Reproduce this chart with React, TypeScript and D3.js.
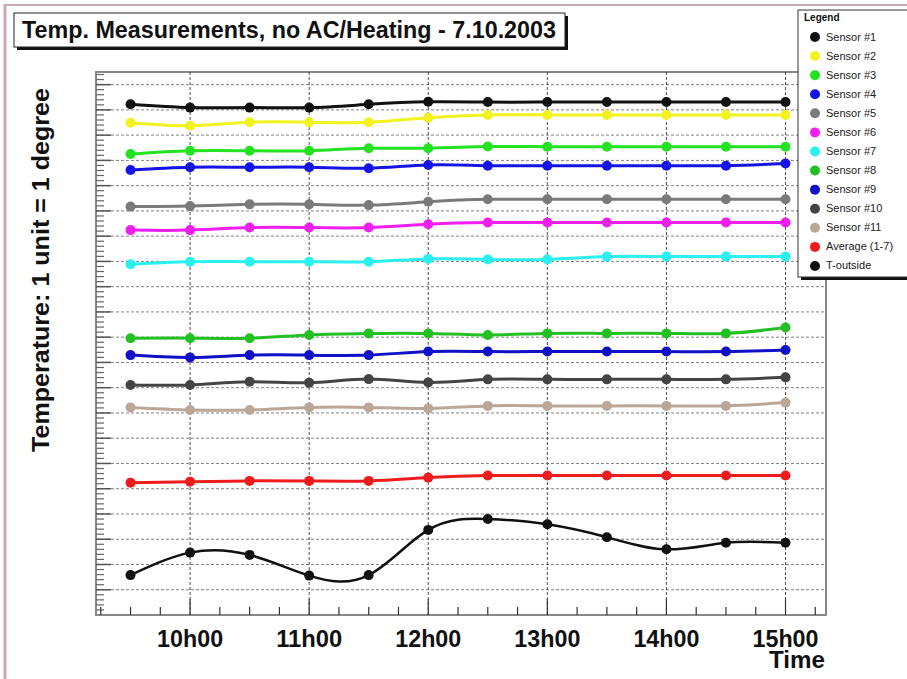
import React from "react";
import * as d3 from "d3";

const times = [9.5, 10, 10.5, 11, 11.5, 12, 12.5, 13, 13.5, 14, 14.5, 15];
const hourTicks = [10, 11, 12, 13, 14, 15];
const hourLabels = ["10h00", "11h00", "12h00", "13h00", "14h00", "15h00"];

const seriesNames = [
  "Sensor #1", "Sensor #2", "Sensor #3", "Sensor #4", "Sensor #5", "Sensor #6",
  "Sensor #7", "Sensor #8", "Sensor #9", "Sensor #10", "Sensor #11", "Average (1-7)", "T-outside",
];
const legendLabels = [
  "Sensor #1", "Sensor #2", "Sensor #3", "Sensor #4", "Sensor #5", "Sensor #6",
  "Sensor #7", "Sensor #8", "Sensor #9", "Sensor #10", "Sensor #11", "Average (1-7)", "T-outside",
];
const seriesColors = [
  "#111111", "#f2f21e", "#22e222", "#1414e6", "#7a7a7a", "#f01ef0",
  "#2af0f0", "#22c022", "#1010c8", "#444444", "#bba797", "#ee1c1c", "#111111",
];

const sensor1 = [20.22, 20.09, 20.09, 20.09, 20.22, 20.32, 20.31, 20.31, 20.31, 20.31, 20.31, 20.31];
const sensor2 = [19.49, 19.37, 19.51, 19.51, 19.51, 19.69, 19.8, 19.8, 19.8, 19.8, 19.8, 19.8];
const sensor3 = [18.25, 18.38, 18.38, 18.38, 18.48, 18.48, 18.55, 18.54, 18.54, 18.54, 18.54, 18.54];
const sensor4 = [17.62, 17.73, 17.73, 17.73, 17.69, 17.82, 17.79, 17.79, 17.79, 17.79, 17.79, 17.88];
const sensor5 = [16.17, 16.19, 16.26, 16.26, 16.23, 16.36, 16.46, 16.46, 16.46, 16.46, 16.46, 16.46];
const sensor6 = [15.24, 15.24, 15.34, 15.34, 15.34, 15.47, 15.54, 15.54, 15.54, 15.54, 15.54, 15.54];
const sensor7 = [13.89, 13.99, 13.99, 13.99, 13.99, 14.1, 14.08, 14.08, 14.19, 14.19, 14.19, 14.19];
const sensor8 = [10.96, 10.96, 10.96, 11.09, 11.15, 11.15, 11.09, 11.15, 11.15, 11.15, 11.15, 11.38];
const sensor9 = [10.29, 10.2, 10.29, 10.29, 10.29, 10.43, 10.43, 10.43, 10.43, 10.43, 10.43, 10.49];
const sensor10 = [9.11, 9.11, 9.24, 9.2, 9.34, 9.21, 9.33, 9.33, 9.33, 9.33, 9.33, 9.41];
const sensor11 = [8.22, 8.12, 8.12, 8.22, 8.22, 8.18, 8.28, 8.28, 8.28, 8.28, 8.28, 8.41];
const average = [5.24, 5.28, 5.31, 5.31, 5.31, 5.44, 5.52, 5.52, 5.52, 5.52, 5.52, 5.52];
const tOutside = [1.58, 2.47, 2.38, 1.56, 1.58, 3.37, 3.8, 3.59, 3.08, 2.6, 2.86, 2.86];

const seriesValues = [
  sensor1, sensor2, sensor3, sensor4, sensor5, sensor6, sensor7,
  sensor8, sensor9, sensor10, sensor11, average, tOutside,
];

const W = 907;
const H = 679;
const FONT = "'Liberation Sans', Arial, Helvetica, sans-serif";

export default function App() {
  const left = 96, right = 826, top = 72, bottom = 615;
  const x = d3.scaleLinear().domain([9.21, 15.34]).range([left, right]);
  const y = d3.scaleLinear().domain([0, 21.5]).range([bottom, top]);

  const line = d3
    .line<number>()
    .x((_, i) => x(times[i]))
    .y((d) => y(d))
    .curve(d3.curveNatural);

  const yMajor = d3.range(1, 22);
  const yMinor = d3.range(0, 21.5, 0.2).filter((v) => Math.abs(v - Math.round(v)) > 0.01);
  const xMinor = d3.range(9.25, 15.34, 0.25).filter((v) => Math.abs(v - Math.round(v)) > 0.01);

  return (
    <svg
      width={W}
      height={H}
      style={{ position: "fixed", left: 0, top: 0, background: "#fff" }}
      fontFamily={FONT}
    >
      <rect x={0} y={0} width={W} height={H} fill="#fff" />
      {/* page border */}
      <line x1={5} y1={4} x2={5} y2={H} stroke="#c9a9b9" strokeWidth={3} />
      <line x1={4} y1={5} x2={W} y2={5} stroke="#c9a9b9" strokeWidth={2} />

      {/* title box */}
      <rect x={17} y={16} width={551} height={34} fill="#111" />
      <rect x={14} y={13} width={551} height={34} fill="#fff" stroke="#222" strokeWidth={1} />
      <text x={22} y={38} fontSize={23} fontWeight="bold" fill="#111" textLength={534} lengthAdjust="spacingAndGlyphs">
        Temp. Measurements, no AC/Heating - 7.10.2003
      </text>

      {/* plot frame */}
      <rect x={left} y={top} width={right - left} height={bottom - top} fill="#fff" stroke="#888" strokeWidth={2} />

      {/* gridlines */}
      {yMajor.map((v) => (
        <line key={"gy" + v} x1={left} x2={right} y1={y(v)} y2={y(v)} stroke="#666" strokeWidth={1} strokeDasharray="3,2" opacity={0.8} />
      ))}
      {hourTicks.map((t) => (
        <line key={"gx" + t} x1={x(t)} x2={x(t)} y1={top} y2={bottom} stroke="#333" strokeWidth={1} strokeDasharray="3,2" opacity={0.85} />
      ))}

      {/* y ticks */}
      {yMajor.map((v) => (
        <line key={"ty" + v} x1={left} x2={left + 15} y1={y(v)} y2={y(v)} stroke="#555" strokeWidth={1.5} />
      ))}
      {yMinor.map((v) => (
        <line key={"tym" + v} x1={left} x2={left + 8} y1={y(v)} y2={y(v)} stroke="#666" strokeWidth={1.2} />
      ))}

      {/* x ticks */}
      {hourTicks.map((t) => (
        <line key={"tx" + t} x1={x(t)} x2={x(t)} y1={bottom} y2={bottom - 16} stroke="#333" strokeWidth={1.2} />
      ))}
      {xMinor.map((t) => (
        <line key={"txm" + t} x1={x(t)} x2={x(t)} y1={bottom} y2={bottom - 8} stroke="#333" strokeWidth={1.2} />
      ))}

      {/* series */}
      {seriesValues.map((vals, si) => (
        <g key={seriesNames[si]}>
          <path d={line(vals) || ""} fill="none" stroke={seriesColors[si]} strokeWidth={si === 12 ? 2.5 : 3} />
          {vals.map((v, i) => (
            <circle key={i} cx={x(times[i])} cy={y(v)} r={5} fill={seriesColors[si]} />
          ))}
        </g>
      ))}

      {/* x tick labels */}
      {hourTicks.map((t, i) => (
        <text key={"lx" + t} x={x(t)} y={647} textAnchor="middle" fontSize={23} fontWeight="bold" fill="#111" textLength={66} lengthAdjust="spacingAndGlyphs">
          {hourLabels[i]}
        </text>
      ))}
      <text x={825} y={668} textAnchor="end" fontSize={23} fontWeight="bold" fill="#111" textLength={56} lengthAdjust="spacingAndGlyphs">
        Time
      </text>

      {/* y title */}
      <text
        transform="translate(49,88) rotate(-90)"
        textAnchor="end"
        fontSize={23}
        fontWeight="bold"
        fill="#111"
        textLength={364}
        lengthAdjust="spacingAndGlyphs"
      >
        Temperature: 1 unit = 1 degree
      </text>

      {/* legend */}
      <rect x={801} y={13} width={120} height={267} fill="#111" />
      <rect x={798} y={10} width={120} height={267} fill="#fff" stroke="#333" strokeWidth={1} />
      <text x={804} y={21} fontSize={10} fontWeight="bold" fill="#111">
        Legend
      </text>
      {legendLabels.map((name, i) => (
        <g key={"lg" + name}>
          <circle cx={815} cy={37 + i * 19.08} r={5} fill={seriesColors[i]} />
          <text x={826} y={37 + i * 19.08 + 3.5} fontSize={11} fill="#222">
            {name}
          </text>
        </g>
      ))}
    </svg>
  );
}
